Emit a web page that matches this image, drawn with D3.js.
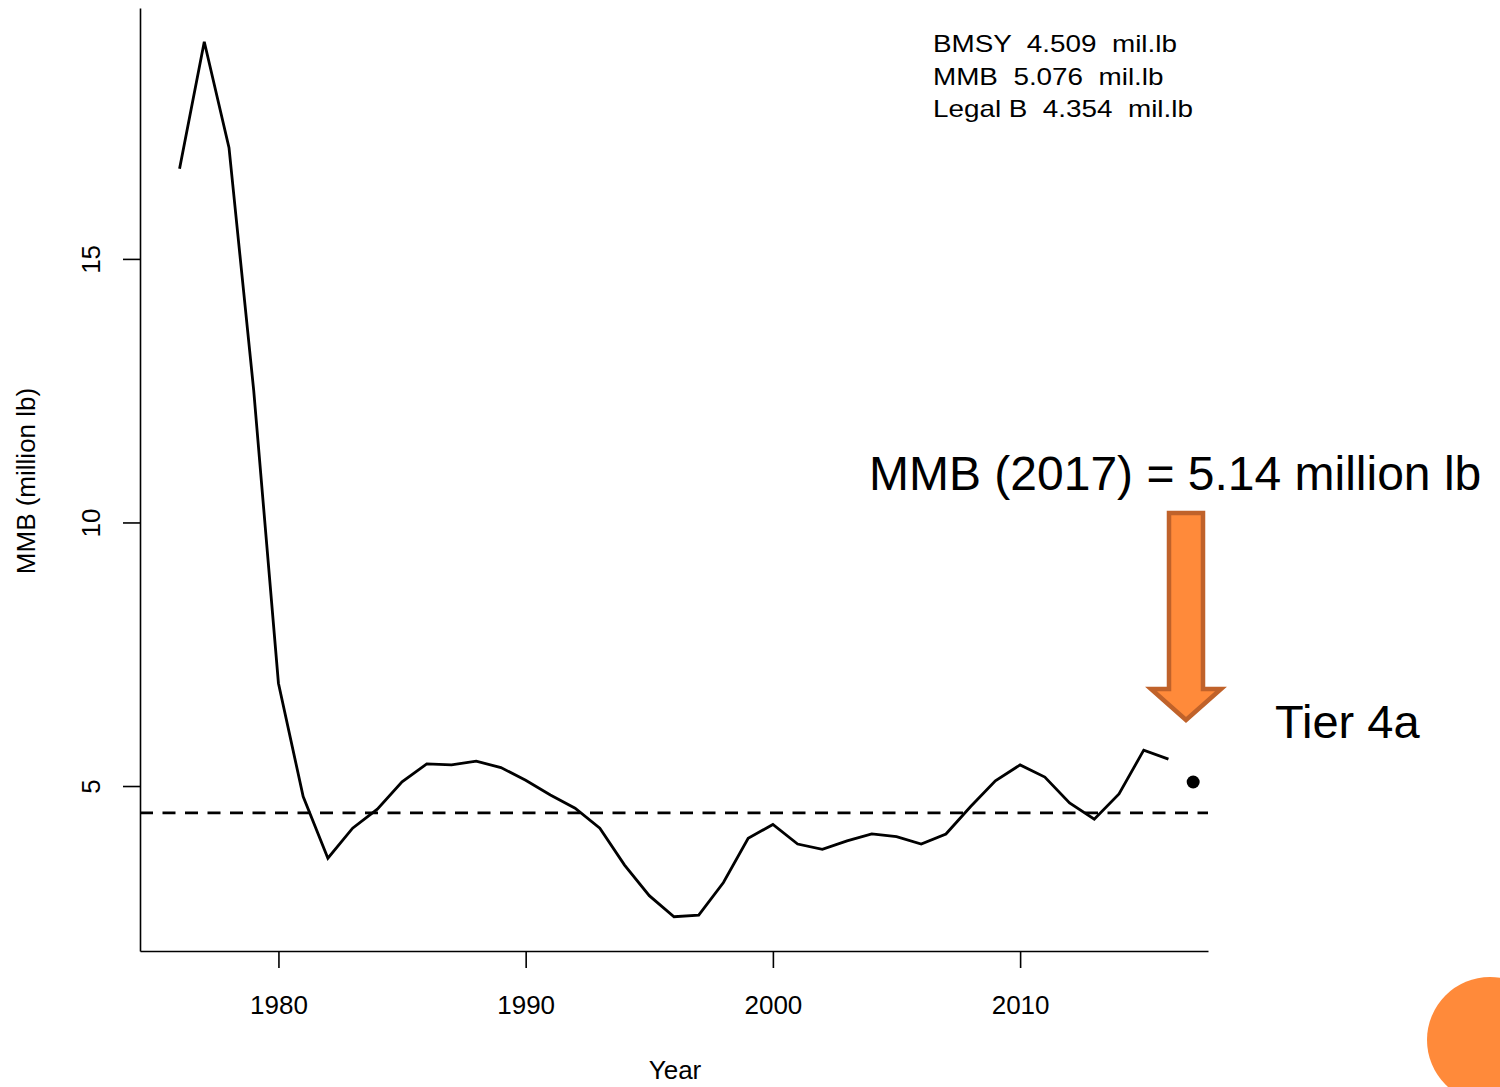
<!DOCTYPE html>
<html>
<head>
<meta charset="utf-8">
<script src="https://cdn.jsdelivr.net/npm/d3@7"></script>
<style>
  body { margin: 0; background: #fff; }
  svg { font-family: "Liberation Sans", Arial, sans-serif; }
  text { white-space: pre; }
</style>
</head>
<body>
<div id="chart"></div>
<script>
// MMB estimates by year (million lb)
const years = d3.range(1976, 2017);
const mmb = [16.71, 19.12, 17.11, 12.5, 6.95, 4.80, 3.63, 4.20, 4.56, 5.08,
  5.42, 5.40, 5.47, 5.35, 5.11, 4.83, 4.58, 4.20, 3.50, 2.92,
  2.52, 2.55, 3.17, 4.01, 4.27, 3.90, 3.80, 3.96, 4.09, 4.04,
  3.90, 4.09, 4.61, 5.10, 5.40, 5.17, 4.68, 4.37, 4.85, 5.68,
  5.51];
const projYear = 2017;
const projMMB = 5.076;
const bmsy = 4.509;
const xTicks = [1980, 1990, 2000, 2010];
const yTicks = [5, 10, 15];
const legendLines = ["BMSY  4.509  mil.lb", "MMB  5.076  mil.lb", "Legal B  4.354  mil.lb"];

const svgWidth = 1500;
const svgHeight = 1087;
const svg = d3.select("#chart")
  .append("svg")
  .attr("width", svgWidth)
  .attr("height", svgHeight);

//scales, R style 4% padding
const xScale = d3.scaleLinear().domain([1974.4, 2017.6]).range([140, 1208]);
const yScale = d3.scaleLinear().domain([1.87, 19.76]).range([951, 8]);

// axes
const xAxis = svg.append("g")
  .attr("transform", "translate(0,951)")
  .call(d3.axisBottom(xScale).tickValues(xTicks).tickSize(17).tickSizeOuter(0).tickFormat(d3.format("d")));
xAxis.selectAll("text")
  .attr("y", 63)
  .attr("dy", 0)
  .style("font-size", "26px")
  .style("fill", "#000");

const yAxis = svg.append("g")
  .attr("transform", "translate(140,0)")
  .call(d3.axisLeft(yScale).tickValues(yTicks).tickSize(17).tickSizeOuter(0));
yAxis.selectAll("text")
  .attr("x", 0)
  .attr("y", -40)
  .attr("dy", 0)
  .attr("transform", "rotate(-90)")
  .attr("text-anchor", "middle")
  .style("font-size", "26px")
  .style("fill", "#000");
svg.selectAll(".domain, .tick line").attr("stroke", "#000").attr("stroke-width", 1.6);
svg.selectAll(".tick").attr("font-family", null).attr("font-size", null);

// axis titles
svg.append("text")
  .attr("x", 675).attr("y", 1079)
  .attr("text-anchor", "middle")
  .style("font-size", "26px")
  .text("Year");
svg.append("text")
  .attr("transform", "translate(35,481) rotate(-90)")
  .attr("text-anchor", "middle")
  .style("font-size", "26px")
  .text("MMB (million lb)");

// BMSY reference line
svg.append("line")
  .attr("x1", xScale(1974.4)).attr("x2", xScale(2017.6))
  .attr("y1", yScale(bmsy) + 1).attr("y2", yScale(bmsy) + 1)
  .attr("stroke", "#000")
  .attr("stroke-width", 2.8)
  .attr("stroke-dasharray", "13,9.5");

// the MMB series
const line = d3.line().x((d, i) => xScale(years[i])).y((d) => yScale(d));
svg.append("path")
  .datum(mmb)
  .attr("d", line)
  .attr("fill", "none")
  .attr("stroke", "#000")
  .attr("stroke-width", 2.8)
  .attr("stroke-linejoin", "miter");

// projected point
svg.append("circle")
  .attr("cx", xScale(projYear))
  .attr("cy", yScale(projMMB))
  .attr("r", 6.5)
  .attr("fill", "#000");

// legend text top right (slightly wide in the slide)
svg.append("g")
  .selectAll("text")
  .data(legendLines)
  .enter()
  .append("text")
  .attr("transform", (d, i) => `translate(933,${52 + i * 32.7}) scale(1.16,1)`)
  .style("font-size", "24px")
  .text((d) => d);

// annotations
svg.append("text")
  .attr("x", 869).attr("y", 490)
  .style("font-size", "48px")
  .text("MMB (2017) = 5.14 million lb");
svg.append("text")
  .attr("x", 1275).attr("y", 738)
  .style("font-size", "47px")
  .text("Tier 4a");

// orange arrow
svg.append("path")
  .attr("d", "M1169,513 L1203,513 L1203,689 L1221,689 L1186,720 L1151,689 L1169,689 Z")
  .attr("fill", "#FF8A3A")
  .attr("stroke", "#C0622A")
  .attr("stroke-width", 4.5)
  .attr("stroke-linejoin", "miter");

// slide decoration circle
svg.append("circle")
  .attr("cx", 1490)
  .attr("cy", 1040)
  .attr("r", 63)
  .attr("fill", "#FF8A3A");
</script>
</body>
</html>
